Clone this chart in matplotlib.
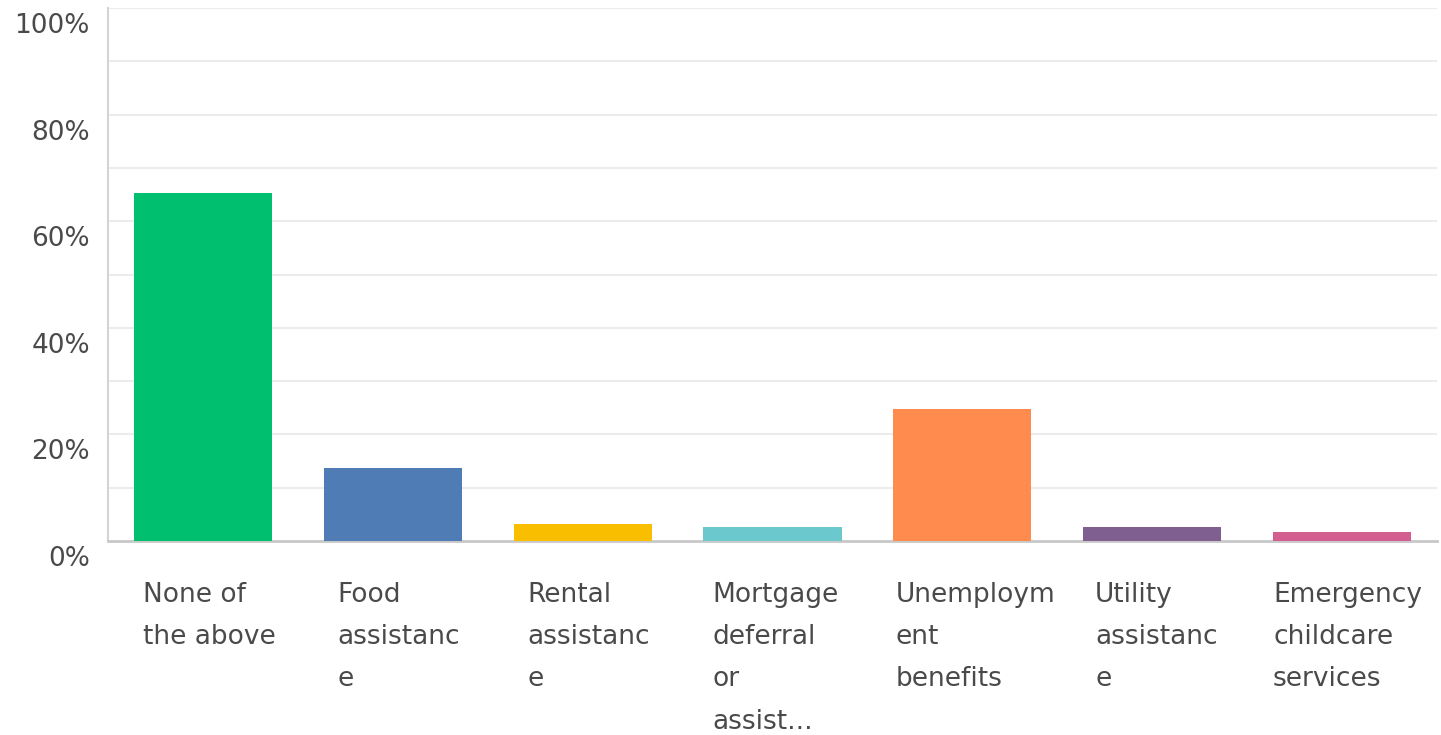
import matplotlib
matplotlib.use("Agg")
import matplotlib.pyplot as plt
import matplotlib.transforms as mtransforms

categories = ["None of\nthe above", "Food\nassistanc\ne", "Rental\nassistanc\ne",
              "Mortgage\ndeferral\nor\nassist...", "Unemploym\nent\nbenefits",
              "Utility\nassistanc\ne", "Emergency\nchildcare\nservices"]
values = [65.3, 13.7, 3.2, 2.6, 24.8, 2.6, 1.7]
colors = ["#00BF6F", "#507CB6", "#F9BE00", "#6BC8CD", "#FF8B4F", "#7F5F90", "#D25F90"]
yticks = [0, 20, 40, 60, 80, 100]
ytick_labels = ["0%", "20%", "40%", "60%", "80%", "100%"]

fig = plt.figure(figsize=(14.41, 7.35), dpi=100)
ax = fig.add_axes([108/1441, 1 - 541/735, (1437-108)/1441, (541-8)/735])

x = list(range(len(categories)))
ax.bar(x, values, width=0.728, color=colors, zorder=3)

ax.set_xlim(-0.5, len(categories) - 0.5)
ax.set_ylim(0, 100)
for g in range(10, 101, 10):
    ax.axhline(g, color="#ececec", lw=1.5, zorder=1)

ax.set_yticks(yticks)
ax.set_yticklabels(ytick_labels, fontsize=19, color="#4a4a4a")
ax.tick_params(axis="y", length=0, pad=13)
offset = mtransforms.ScaledTranslation(0, -15/100, fig.dpi_scale_trans)
for lab in ax.get_yticklabels():
    lab.set_transform(lab.get_transform() + offset)

ax.set_xticks([])
for s in ["top", "right"]:
    ax.spines[s].set_visible(False)
ax.spines["left"].set_color("#d4d4d4")
ax.spines["left"].set_linewidth(1.5)
ax.spines["bottom"].set_color("#c8c8c8")
ax.spines["bottom"].set_linewidth(2)

xoffs = [-60, -55, -55, -60, -67, -57, -69]
for i, (cat, dx) in enumerate(zip(categories, xoffs)):
    ax.annotate(cat, xy=(i, 0), xycoords=("data", "axes fraction"),
                xytext=(dx, -41), textcoords="offset pixels",
                ha="left", va="top", multialignment="left",
                fontsize=19, color="#4a4a4a", linespacing=1.81)

fig.savefig("out.png", dpi=100)
